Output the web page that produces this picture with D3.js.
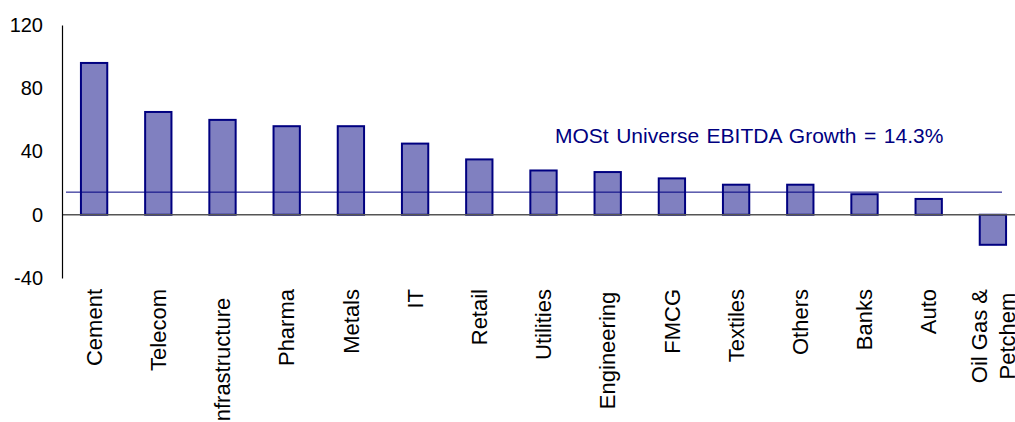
<!DOCTYPE html>
<html>
<head>
<meta charset="utf-8">
<script src="https://cdn.jsdelivr.net/npm/d3@7"></script>
<style>
  html, body { margin: 0; padding: 0; background: #fff; overflow: hidden; }
  svg { display: block; font-family: "Liberation Sans", Arial, sans-serif; }
</style>
</head>
<body>
<svg id="chart" width="1015" height="422"></svg>
<script>
// Sector EBITDA growth (%)
const sectors = ["Cement", "Telecom", "Infrastructure", "Pharma", "Metals", "IT", "Retail",
  "Utilities", "Engineering", "FMCG", "Textiles", "Others", "Banks", "Auto", "Oil Gas &\nPetchem"];
const growth = [96, 65, 60, 56, 56, 45, 35, 28, 27, 23, 19, 19, 13, 10, -19];
const yTicks = [-40, 0, 40, 80, 120];
const universeGrowth = 14.3;
const universeLabel = "MOSt Universe EBITDA Growth = 14.3%";

const svg = d3.select("#chart");

const x = d3.scaleBand()
  .domain(sectors)
  .range([62, 1025])
  .paddingInner(0.59)
  .paddingOuter(0.295);

const y = d3.scaleLinear()
  .domain([-40, 120])
  .range([278, 25]);

// Bars
svg.append("g")
  .selectAll("rect")
  .data(sectors)
  .join("rect")
  .attr("x", d => x(d))
  .attr("width", x.bandwidth())
  .attr("y", (d, i) => y(Math.max(0, growth[i])))
  .attr("height", (d, i) => Math.abs(y(growth[i]) - y(0)))
  .attr("fill", "#8080c0")
  .attr("stroke", "#000080")
  .attr("stroke-width", 2);

// Zero baseline
svg.append("line")
  .attr("x1", 62).attr("x2", 1015)
  .attr("y1", y(0)).attr("y2", y(0))
  .attr("stroke", "#555").attr("stroke-width", 1.3);

// Universe average line
svg.append("line")
  .attr("x1", 66).attr("x2", 1002)
  .attr("y1", y(universeGrowth)).attr("y2", y(universeGrowth))
  .attr("stroke", "#000080").attr("stroke-width", 1);

// Y axis
const yAxis = d3.axisLeft(y).tickValues(yTicks).tickFormat(d => String(d))
  .tickSize(0).tickPadding(19);
const gy = svg.append("g").attr("transform", "translate(62,0)").call(yAxis);
gy.select(".domain").attr("stroke", "#000").attr("stroke-width", 1.2);
gy.selectAll("text")
  .attr("font-size", 20)
  .attr("font-family", "'Liberation Sans', Arial, sans-serif")
  .attr("fill", "#000");

// Category labels, rotated to read upward
const labelTop = 289;
const labelRoom = 112;
const labels = svg.append("g");
sectors.forEach(name => {
  const lines = name.split("\n");
  const cx = x(name) + x.bandwidth() / 2;
  const lh = 28;
  const t = labels.append("text")
    .attr("font-size", 22)
    .attr("fill", "#000")
    .attr("text-anchor", "middle");
  lines.forEach((ln, j) => {
    const off = (j - (lines.length - 1) / 2) * lh;
    t.append("tspan")
      .attr("x", 0)
      .attr("y", cx + off)
      .attr("dy", "0.35em")
      .text(ln);
  });
  const w = d3.max(t.selectAll("tspan").nodes(), n => n.getComputedTextLength());
  // long labels overflow evenly past the label area
  const shift = Math.max(0, (w - labelRoom) / 2);
  const mid = labelTop + shift + w / 2;
  t.attr("transform", `rotate(-90) translate(${-mid},0)`);
});

// Average annotation
svg.append("text")
  .attr("x", 555)
  .attr("y", 143)
  .attr("font-size", 21)
  .attr("word-spacing", 1.7)
  .attr("fill", "#000080")
  .text(universeLabel);
</script>
</body>
</html>
